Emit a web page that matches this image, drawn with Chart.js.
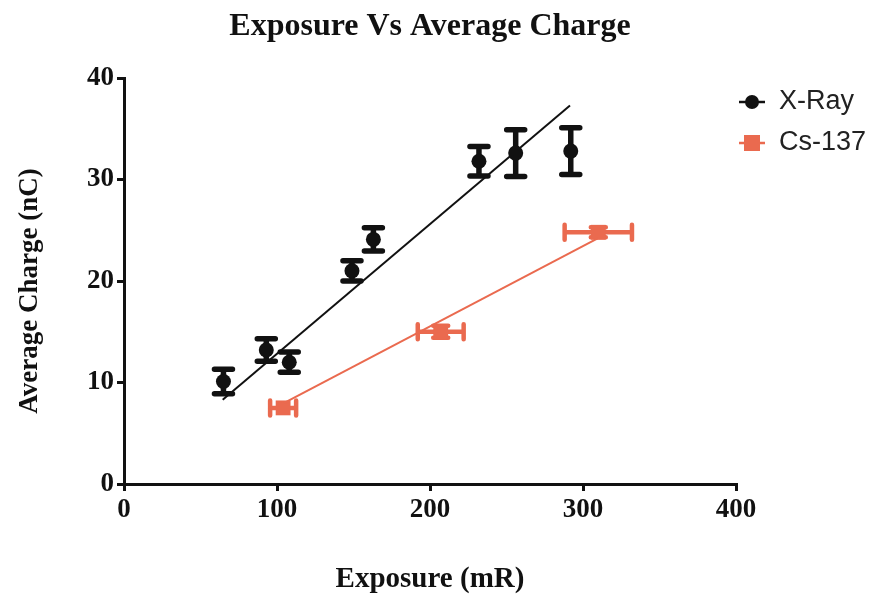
<!DOCTYPE html>
<html>
<head>
<meta charset="utf-8">
<script src="https://cdn.jsdelivr.net/npm/chart.js@4"></script>
<style>
  body { margin: 0; background: #fff; }
  #wrap { width: 876px; height: 601px; }
</style>
</head>
<body>
<div id="wrap"><canvas id="chart" width="876" height="601"></canvas></div>
<script>
// X-Ray measurements
const xrayExposure = [65, 93, 108, 149, 163, 232, 256, 292];
const xrayCharge = [10.1, 13.2, 12.0, 21.0, 24.1, 31.8, 32.6, 32.8];
const xrayChargeErr = [1.2, 1.1, 1.0, 1.0, 1.15, 1.45, 2.3, 2.3];

// Cs-137 measurements
const csExposure = [104, 207, 310];
const csCharge = [7.5, 15.0, 24.8];
const csExposureErr = [8.5, 15, 22];
const csChargeErr = [0, 0.6, 0.5];

// linear fit end points
const xrayFitX = [64.5, 291.5];
const xrayFitY = [8.3, 37.3];
const csFitX = [103.5, 309.6];
const csFitY = [7.9, 24.2];

const xTicks = [0, 100, 200, 300, 400];
const yTicks = [0, 10, 20, 30, 40];

const BLACK = '#111111';
const RED = '#EA6A4F';
const serif = "'Liberation Serif', 'Times New Roman', serif";
const sans = "'Liberation Sans', Arial, sans-serif";

const toPoints = (xs, ys) => xs.map((x, i) => ({ x: x, y: ys[i] }));

// draws the error bars under the markers
const errorBars = {
    id: 'errorBars',
    beforeDatasetsDraw(chart) {
        const ctx = chart.ctx;
        const xs = chart.scales.x;
        const ys = chart.scales.y;
        ctx.save();
        ctx.lineCap = 'round';
        chart.data.datasets.forEach(ds => {
            if (!ds.errY && !ds.errX) return;
            ctx.strokeStyle = ds.borderColor;
            ctx.lineWidth = ds.errWidth;
            const cap = ds.capSize;
            ds.data.forEach((p, i) => {
                const px = xs.getPixelForValue(p.x);
                const py = ys.getPixelForValue(p.y);
                const ey = ds.errY ? ds.errY[i] : 0;
                const ex = ds.errX ? ds.errX[i] : 0;
                if (ey > 0) {
                    const top = ys.getPixelForValue(p.y + ey);
                    const bot = ys.getPixelForValue(p.y - ey);
                    ctx.beginPath();
                    ctx.moveTo(px, top); ctx.lineTo(px, bot);
                    ctx.moveTo(px - cap, top); ctx.lineTo(px + cap, top);
                    ctx.moveTo(px - cap, bot); ctx.lineTo(px + cap, bot);
                    ctx.stroke();
                }
                if (ex > 0) {
                    const l = xs.getPixelForValue(p.x - ex);
                    const r = xs.getPixelForValue(p.x + ex);
                    ctx.beginPath();
                    ctx.moveTo(l, py); ctx.lineTo(r, py);
                    ctx.moveTo(l, py - cap); ctx.lineTo(l, py + cap);
                    ctx.moveTo(r, py - cap); ctx.lineTo(r, py + cap);
                    ctx.stroke();
                }
            });
        });
        ctx.restore();
    }
};

// chart title and axis titles, placed like the original
const titles = {
    id: 'titles',
    afterDraw(chart) {
        const ctx = chart.ctx;
        const area = chart.chartArea;
        ctx.save();
        ctx.fillStyle = BLACK;
        ctx.textAlign = 'center';
        ctx.textBaseline = 'middle';
        ctx.font = 'bold 32px ' + serif;
        ctx.fillText('Exposure Vs Average Charge', (area.left + area.right) / 2, 27);
        ctx.font = 'bold 29px ' + serif;
        ctx.fillText('Exposure (mR)', (area.left + area.right) / 2, 580);
        ctx.translate(30, 291);
        ctx.rotate(-Math.PI / 2);
        ctx.font = 'bold 27px ' + serif;
        ctx.fillText('Average Charge (nC)', 0, 0);
        ctx.restore();
    }
};

// legend on the right, line + marker like the original
const sideLegend = {
    id: 'sideLegend',
    afterDraw(chart) {
        const ctx = chart.ctx;
        const items = [
            { label: 'X-Ray', color: BLACK, shape: 'circle', y: 102 },
            { label: 'Cs-137', color: RED, shape: 'square', y: 143 }
        ];
        ctx.save();
        items.forEach(it => {
            ctx.strokeStyle = it.color;
            ctx.fillStyle = it.color;
            ctx.lineWidth = 2.5;
            ctx.beginPath();
            ctx.moveTo(739, it.y); ctx.lineTo(765, it.y);
            ctx.stroke();
            if (it.shape === 'circle') {
                ctx.beginPath();
                ctx.arc(752, it.y, 7, 0, Math.PI * 2);
                ctx.fill();
            } else {
                ctx.fillRect(744, it.y - 8, 16, 16);
            }
            ctx.fillStyle = '#222';
            ctx.font = '27px ' + sans;
            ctx.textAlign = 'left';
            ctx.textBaseline = 'middle';
            ctx.fillText(it.label, 779, it.y);
        });
        ctx.restore();
    }
};

const axisCommon = {
    border: { display: true, color: BLACK, width: 3 },
    grid: { drawOnChartArea: false, drawTicks: true, tickLength: 7, color: BLACK, lineWidth: 3 },
    ticks: { color: BLACK, font: { family: serif, size: 27, weight: 'bold' }, padding: 3 }
};

new Chart(document.getElementById('chart'), {
    type: 'scatter',
    data: {
        datasets: [
            {
                label: 'X-Ray fit', data: toPoints(xrayFitX, xrayFitY), showLine: true,
                borderColor: BLACK, borderWidth: 2, pointRadius: 0, fill: false
            },
            {
                label: 'Cs-137 fit', data: toPoints(csFitX, csFitY), showLine: true,
                borderColor: RED, borderWidth: 2, pointRadius: 0, fill: false
            },
            {
                label: 'X-Ray', data: toPoints(xrayExposure, xrayCharge),
                errY: xrayChargeErr, errWidth: 5.5, capSize: 9,
                borderColor: BLACK, backgroundColor: BLACK,
                pointStyle: 'circle', pointRadius: 7.5, borderWidth: 0
            },
            {
                label: 'Cs-137', data: toPoints(csExposure, csCharge),
                errX: csExposureErr, errY: csChargeErr, errWidth: 4.5, capSize: 7.5,
                borderColor: RED, backgroundColor: RED,
                pointStyle: 'rect', pointRadius: 10.5, borderWidth: 0
            }
        ]
    },
    options: {
        responsive: false,
        animation: false,
        layout: { padding: { top: 78, right: 140, bottom: 0, left: 0 } },
        plugins: {
            legend: { display: false },
            tooltip: { enabled: false },
            title: { display: false }
        },
        scales: {
            x: {
                ...axisCommon,
                min: 0, max: 400,
                afterBuildTicks: axis => { axis.ticks = xTicks.map(v => ({ value: v })); },
                afterFit: axis => { axis.height = 117; }
            },
            y: {
                ...axisCommon,
                min: 0, max: 40,
                afterBuildTicks: axis => { axis.ticks = yTicks.map(v => ({ value: v })); },
                afterFit: axis => { axis.width = 124; }
            }
        }
    },
    plugins: [errorBars, titles, sideLegend]
});
</script>
</body>
</html>
